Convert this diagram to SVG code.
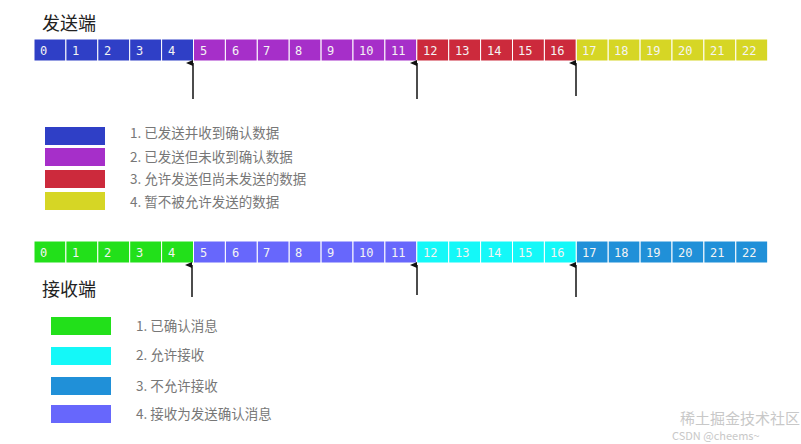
<svg xmlns="http://www.w3.org/2000/svg" width="801" height="444" viewBox="0 0 801 444">
<defs>
<style>
.c{stroke:#fff;stroke-width:1}
.n{font-family:"DejaVu Sans Mono",monospace;font-size:12px;fill:#f4f4f4}
.t{font-family:"Noto Sans CJK SC","Noto Sans",sans-serif;font-size:18px;fill:#222}
.l{font-family:"Noto Sans CJK SC","Noto Sans",sans-serif;font-size:13.5px;fill:#777}
.a{stroke:#111;stroke-width:1.5;fill:none}
.b{fill:#2f3fc6}.p{fill:#a62fc9}.r{fill:#cc2a3c}.y{fill:#d6d625}
.g{fill:#22e01a}.cy{fill:#14f8f8}.sb{fill:#2090d8}.lv{fill:#6767fc}
</style>
<marker id="ar" markerWidth="8" markerHeight="8" refX="4" refY="7" orient="auto" markerUnits="userSpaceOnUse"><path d="M1,7 L4,0 L7,7 Z" fill="#111" transform="rotate(0)"/></marker>
</defs>
<rect width="801" height="444" fill="#fff"/>
<g id="sender">
<text class="t" x="42" y="30">发送端</text>
<g id="sender-bar">
<rect class="c b" x="34" y="39" width="31.9" height="22"/><rect class="c b" x="65.9" y="39" width="31.9" height="22"/><rect class="c b" x="97.8" y="39" width="31.9" height="22"/><rect class="c b" x="129.7" y="39" width="31.9" height="22"/><rect class="c b" x="161.6" y="39" width="31.9" height="22"/>
<rect class="c p" x="193.5" y="39" width="31.9" height="22"/><rect class="c p" x="225.4" y="39" width="31.9" height="22"/><rect class="c p" x="257.3" y="39" width="31.9" height="22"/><rect class="c p" x="289.2" y="39" width="31.9" height="22"/><rect class="c p" x="321.1" y="39" width="31.9" height="22"/><rect class="c p" x="353" y="39" width="31.9" height="22"/><rect class="c p" x="384.9" y="39" width="31.9" height="22"/>
<rect class="c r" x="416.8" y="39" width="31.9" height="22"/><rect class="c r" x="448.7" y="39" width="31.9" height="22"/><rect class="c r" x="480.6" y="39" width="31.9" height="22"/><rect class="c r" x="512.5" y="39" width="31.9" height="22"/><rect class="c r" x="544.4" y="39" width="31.9" height="22"/>
<rect class="c y" x="576.3" y="39" width="31.9" height="22"/><rect class="c y" x="608.2" y="39" width="31.9" height="22"/><rect class="c y" x="640.1" y="39" width="31.9" height="22"/><rect class="c y" x="672" y="39" width="31.9" height="22"/><rect class="c y" x="703.9" y="39" width="31.9" height="22"/><rect class="c y" x="735.8" y="39" width="31.9" height="22"/>
</g>
<g id="sender-nums">
<text class="n" x="40" y="55">0</text><text class="n" x="72" y="55">1</text><text class="n" x="104" y="55">2</text><text class="n" x="136" y="55">3</text><text class="n" x="168" y="55">4</text><text class="n" x="200" y="55">5</text><text class="n" x="232" y="55">6</text><text class="n" x="263" y="55">7</text><text class="n" x="295" y="55">8</text><text class="n" x="327" y="55">9</text><text class="n" x="359" y="55">10</text><text class="n" x="391" y="55">11</text><text class="n" x="423" y="55">12</text><text class="n" x="455" y="55">13</text><text class="n" x="487" y="55">14</text><text class="n" x="518" y="55">15</text><text class="n" x="550" y="55">16</text><text class="n" x="582" y="55">17</text><text class="n" x="614" y="55">18</text><text class="n" x="646" y="55">19</text><text class="n" x="678" y="55">20</text><text class="n" x="710" y="55">21</text><text class="n" x="742" y="55">22</text>
</g>
</g>
<g id="sender-legend">
<rect class="b" x="45" y="127" width="60" height="18"/><rect class="p" x="45" y="148" width="60" height="18"/><rect class="r" x="45" y="170" width="60" height="18"/><rect class="y" x="45" y="192" width="60" height="18"/>
<text class="l" x="130" y="138">1. 已发送并收到确认数据</text>
<text class="l" x="130" y="162">2. 已发送但未收到确认数据</text>
<text class="l" x="130" y="184">3. 允许发送但尚未发送的数据</text>
<text class="l" x="130" y="207">4. 暂不被允许发送的数据</text>
</g>
<g id="receiver">
<g id="receiver-bar">
<rect class="c g" x="34" y="241" width="31.9" height="22"/><rect class="c g" x="65.9" y="241" width="31.9" height="22"/><rect class="c g" x="97.8" y="241" width="31.9" height="22"/><rect class="c g" x="129.7" y="241" width="31.9" height="22"/><rect class="c g" x="161.6" y="241" width="31.9" height="22"/>
<rect class="c lv" x="193.5" y="241" width="31.9" height="22"/><rect class="c lv" x="225.4" y="241" width="31.9" height="22"/><rect class="c lv" x="257.3" y="241" width="31.9" height="22"/><rect class="c lv" x="289.2" y="241" width="31.9" height="22"/><rect class="c lv" x="321.1" y="241" width="31.9" height="22"/><rect class="c lv" x="353" y="241" width="31.9" height="22"/><rect class="c lv" x="384.9" y="241" width="31.9" height="22"/>
<rect class="c cy" x="416.8" y="241" width="31.9" height="22"/><rect class="c cy" x="448.7" y="241" width="31.9" height="22"/><rect class="c cy" x="480.6" y="241" width="31.9" height="22"/><rect class="c cy" x="512.5" y="241" width="31.9" height="22"/><rect class="c cy" x="544.4" y="241" width="31.9" height="22"/>
<rect class="c sb" x="576.3" y="241" width="31.9" height="22"/><rect class="c sb" x="608.2" y="241" width="31.9" height="22"/><rect class="c sb" x="640.1" y="241" width="31.9" height="22"/><rect class="c sb" x="672" y="241" width="31.9" height="22"/><rect class="c sb" x="703.9" y="241" width="31.9" height="22"/><rect class="c sb" x="735.8" y="241" width="31.9" height="22"/>
</g>
<g id="receiver-nums">
<text class="n" x="40" y="257">0</text><text class="n" x="72" y="257">1</text><text class="n" x="104" y="257">2</text><text class="n" x="136" y="257">3</text><text class="n" x="168" y="257">4</text><text class="n" x="200" y="257">5</text><text class="n" x="232" y="257">6</text><text class="n" x="263" y="257">7</text><text class="n" x="295" y="257">8</text><text class="n" x="327" y="257">9</text><text class="n" x="359" y="257">10</text><text class="n" x="391" y="257">11</text><text class="n" x="423" y="257">12</text><text class="n" x="455" y="257">13</text><text class="n" x="487" y="257">14</text><text class="n" x="518" y="257">15</text><text class="n" x="550" y="257">16</text><text class="n" x="582" y="257">17</text><text class="n" x="614" y="257">18</text><text class="n" x="646" y="257">19</text><text class="n" x="678" y="257">20</text><text class="n" x="710" y="257">21</text><text class="n" x="742" y="257">22</text>
</g>
<text class="t" x="42" y="296">接收端</text>
</g>
<g id="receiver-legend">
<rect class="g" x="51" y="317" width="60" height="18"/><rect class="cy" x="51" y="347" width="60" height="18"/><rect class="sb" x="51" y="377" width="60" height="18"/><rect class="lv" x="51" y="405" width="60" height="18"/>
<text class="l" x="136" y="331">1. 已确认消息</text>
<text class="l" x="136" y="360">2. 允许接收</text>
<text class="l" x="136" y="391">3. 不允许接收</text>
<text class="l" x="136" y="419">4. 接收为发送确认消息</text>
</g>
<g id="connectors">
<line class="a" x1="193" y1="99" x2="193" y2="63" marker-end="url(#ar)"/>
<line class="a" x1="417" y1="99" x2="417" y2="63" marker-end="url(#ar)"/>
<line class="a" x1="576" y1="96" x2="576" y2="63" marker-end="url(#ar)"/>
<line class="a" x1="192" y1="297" x2="192" y2="265" marker-end="url(#ar)"/>
<line class="a" x1="417" y1="295" x2="417" y2="265" marker-end="url(#ar)"/>
<line class="a" x1="576" y1="297" x2="576" y2="265" marker-end="url(#ar)"/>
</g>
<g id="watermark" font-family="Noto Sans CJK SC,sans-serif" fill="#c8c8c8">
<text x="680" y="424" font-size="15">稀土掘金技术社区</text>
<text x="672" y="440" font-size="11">CSDN @cheems~</text>
</g>
</svg>
